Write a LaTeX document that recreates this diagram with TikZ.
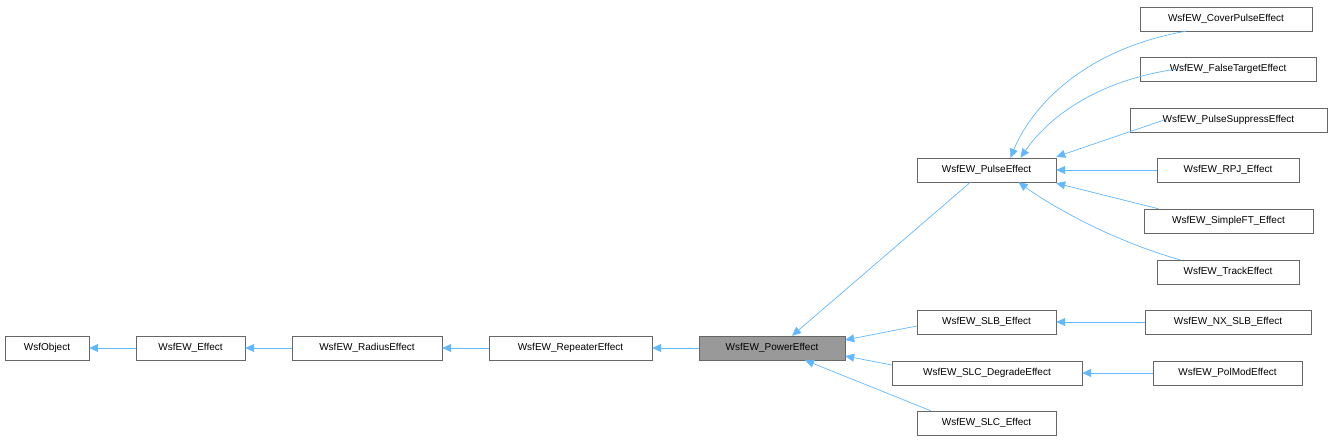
\documentclass[tikz,border=0pt]{standalone}
\usepackage{fontspec}
\setmainfont{Liberation Sans}
\usetikzlibrary{arrows.meta,calc}
\begin{document}
\begin{tikzpicture}[x=1pt,y=-1pt,
  box/.style={draw=black!60,fill=white,minimum height=24pt,inner sep=0pt,font=\fontsize{10}{12}\selectfont},
  e/.style={draw={rgb,255:red,99;green,184;blue,255},-{Triangle[length=9pt,width=8pt]},line width=0.7pt}]
\useasboundingbox (0,0) rectangle (1333,443);
\node[box,minimum width=84pt] (obj) at (47,348) {WsfObject};
\node[box,minimum width=109pt] (eff) at (190.5,348) {WsfEW\_Effect};
\node[box,minimum width=150pt] (rad) at (367,348) {WsfEW\_RadiusEffect};
\node[box,minimum width=163pt] (rep) at (570.5,348) {WsfEW\_RepeaterEffect};
\node[box,minimum width=146pt,fill=black!40] (pow) at (772,348) {WsfEW\_PowerEffect};
\node[box,minimum width=139pt] (pul) at (986.5,170) {WsfEW\_PulseEffect};
\node[box,minimum width=139pt] (slb) at (986.5,322) {WsfEW\_SLB\_Effect};
\node[box,minimum width=190pt] (sld) at (987,373) {WsfEW\_SLC\_DegradeEffect};
\node[box,minimum width=139pt] (slc) at (986.5,423) {WsfEW\_SLC\_Effect};
\node[box,minimum width=172pt] (cov) at (1226,19) {WsfEW\_CoverPulseEffect};
\node[box,minimum width=176pt] (fal) at (1228,69) {WsfEW\_FalseTargetEffect};
\node[box,minimum width=197pt] (sup) at (1228.5,120) {WsfEW\_PulseSuppressEffect};
\node[box,minimum width=142pt] (rpj) at (1228,170) {WsfEW\_RPJ\_Effect};
\node[box,minimum width=169pt] (sft) at (1228.5,221) {WsfEW\_SimpleFT\_Effect};
\node[box,minimum width=142pt] (trk) at (1228,272) {WsfEW\_TrackEffect};
\node[box,minimum width=166pt] (nx) at (1228,322) {WsfEW\_NX\_SLB\_Effect};
\node[box,minimum width=149pt] (pm) at (1227.5,373) {WsfEW\_PolModEffect};
\draw[e] (eff) -- (obj);
\draw[e] (rad) -- (eff);
\draw[e] (rep) -- (rad);
\draw[e] (pow) -- (rep);
\draw[e] ($(pul.south)+(-16,0)$) -- ($(pow.north)+(20,0)$);
\draw[e] ($(slb.west)+(0,4)$) -- ($(pow.east)+(0,-8)$);
\draw[e] ($(sld.west)+(0,-8)$) -- ($(pow.east)+(0,8)$);
\draw[e] ($(slc.north west)+(14,0)$) -- ($(pow.south)+(33,0)$);
\draw[e] ($(cov.south)+(-40,0)$) .. controls (1080,50) and (1030,110) .. ($(pul.north)+(24,0)$);
\draw[e] ($(fal.south)+(-52,-12)$) .. controls (1100,80) and (1050,115) .. ($(pul.north)+(34,0)$);
\draw[e] ($(sup.south)+(-65,-12)$) -- ($(pul.north east)+(0,-1)$);
\draw[e] (rpj) -- (pul);
\draw[e] ($(sft.north)+(-70,0)$) -- ($(pul.south east)+(0,1)$);
\draw[e] ($(trk.north)+(-48,0)$) .. controls (1110,240) and (1050,205) .. ($(pul.south)+(32,0)$);
\draw[e] (nx) -- (slb);
\draw[e] (pm) -- (sld);
\end{tikzpicture}
\end{document}
